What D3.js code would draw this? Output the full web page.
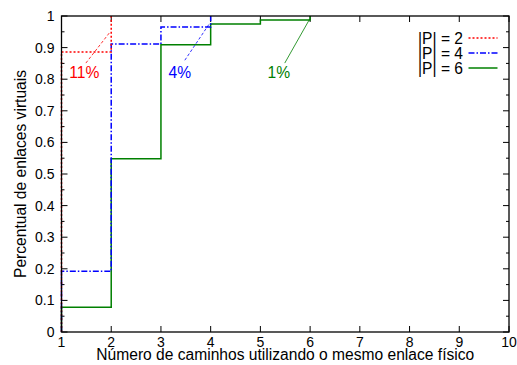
<!DOCTYPE html>
<html>
<head>
<meta charset="utf-8">
<script src="https://cdn.jsdelivr.net/npm/d3@7"></script>
<style>
  body { margin: 0; background: #fff; }
  text { font-family: "Liberation Sans", Arial, sans-serif; }
</style>
</head>
<body>
<div class="chart"></div>
<script>
// data (cumulative fraction at each path count)
const seriesNames = ["|P| = 2", "|P| = 4", "|P| = 6"];
const xP2 = [1, 1, 2];
const yP2 = [0, 0.886, 1];
const xP4 = [1, 1, 2, 3, 4];
const yP4 = [0, 0.192, 0.911, 0.965, 1];
const xP6 = [1, 1, 2, 3, 4, 5, 6];
const yP6 = [0, 0.078, 0.548, 0.909, 0.975, 0.987, 1];
const xTicks = [1, 2, 3, 4, 5, 6, 7, 8, 9, 10];
const yTicks = [0, 0.1, 0.2, 0.3, 0.4, 0.5, 0.6, 0.7, 0.8, 0.9, 1];
const noteLabels = ["11%", "4%", "1%"];
// annotation anchors in data units: text pos, pointer from -> to
const noteText = [[1.46, 0.803], [3.38, 0.803], [5.37, 0.803]];
const notePtr = [[[1.49, 0.851], [1.97, 0.948]], [[3.48, 0.86], [3.98, 0.977]], [[5.49, 0.851], [5.99, 0.99]]];

const W = 517, H = 365;
const margin = { top: 16, right: 8, bottom: 33, left: 61.5 };
const width = W - margin.left - margin.right,
  height = H - margin.top - margin.bottom;

const svg = d3.select(".chart")
  .append("svg")
  .attr("width", W)
  .attr("height", H)
  .append("g")
  .attr("transform", `translate(${margin.left}, ${margin.top})`);

const x = d3.scaleLinear().domain([1, 10]).range([0, width]);
const y = d3.scaleLinear().domain([0, 1]).range([height, 0]);

const colors = ["#ff0000", "#0000ff", "#008000"];
const dashes = ["2,2", "6,2,1.5,2", null];

// ticks (inside, mirrored)
const tickG = svg.append("g").attr("stroke", "#000").attr("stroke-width", 1);
xTicks.forEach(t => {
  tickG.append("line").attr("x1", x(t)).attr("x2", x(t)).attr("y1", height).attr("y2", height - 6);
  tickG.append("line").attr("x1", x(t)).attr("x2", x(t)).attr("y1", 0).attr("y2", 6);
});
d3.range(0, 1.0001, 0.05).forEach((t, i) => {
  const len = i % 2 === 0 ? 6 : 3;
  tickG.append("line").attr("x1", 0).attr("x2", len).attr("y1", y(t)).attr("y2", y(t));
  tickG.append("line").attr("x1", width).attr("x2", width - len).attr("y1", y(t)).attr("y2", y(t));
});

// tick labels
svg.append("g").selectAll("text")
  .data(xTicks)
  .enter().append("text")
  .attr("x", d => x(d))
  .attr("y", height + 14.5)
  .attr("text-anchor", "middle")
  .attr("font-size", "14px")
  .text(d => d);

svg.append("g").selectAll("text")
  .data(yTicks)
  .enter().append("text")
  .attr("x", -7)
  .attr("y", d => y(d) + 5)
  .attr("text-anchor", "end")
  .attr("font-size", "14px")
  .text(d => d === 0 || d === 1 ? d : d.toFixed(1));

// axis titles
svg.append("text")
  .attr("x", width / 2)
  .attr("y", height + 28)
  .attr("text-anchor", "middle")
  .attr("font-size", "15.6px")
  .text("Número de caminhos utilizando o mesmo enlace físico");

svg.append("text")
  .attr("transform", "rotate(-90)")
  .attr("x", -height / 2)
  .attr("y", -35.5)
  .attr("text-anchor", "middle")
  .attr("font-size", "15.6px")
  .text("Percentual de enlaces virtuais");

// step lines
const line = d3.line()
  .x(d => x(d[0]))
  .y(d => y(d[1]))
  .curve(d3.curveStepAfter);

const series = [
  d3.zip(xP2, yP2),
  d3.zip(xP4, yP4),
  d3.zip(xP6, yP6)
];

// draw green first so red/blue sit on top
[2, 1, 0].forEach(i => {
  svg.append("path")
    .datum(series[i])
    .attr("fill", "none")
    .attr("stroke", colors[i])
    .attr("stroke-width", 1.5)
    .attr("stroke-dasharray", dashes[i])
    .attr("d", line);
});

// annotations
noteLabels.forEach((lab, i) => {
  svg.append("line")
    .attr("x1", x(notePtr[i][0][0])).attr("y1", y(notePtr[i][0][1]))
    .attr("x2", x(notePtr[i][1][0])).attr("y2", y(notePtr[i][1][1]))
    .attr("stroke", colors[i])
    .attr("stroke-width", 0.8)
    .attr("stroke-dasharray", i === 2 ? null : "3,2");
  svg.append("text")
    .attr("x", x(noteText[i][0]))
    .attr("y", y(noteText[i][1]))
    .attr("text-anchor", "middle")
    .attr("font-size", "15.6px")
    .attr("fill", colors[i])
    .text(lab);
});

// border
svg.append("rect")
  .attr("width", width)
  .attr("height", height)
  .attr("fill", "none")
  .attr("stroke", "#000")
  .attr("stroke-width", 1.3);

// legend
const legend = svg.append("g");
seriesNames.forEach((name, i) => {
  const ly = 22 + i * 15;
  legend.append("text")
    .attr("x", 401.5)
    .attr("y", ly + 5.5)
    .attr("text-anchor", "end")
    .attr("font-size", "15.6px")
    .text(name);
  legend.append("line")
    .attr("x1", 407).attr("x2", 436)
    .attr("y1", ly).attr("y2", ly)
    .attr("stroke", colors[i])
    .attr("stroke-width", 1.5)
    .attr("stroke-dasharray", dashes[i]);
});
</script>
</body>
</html>
